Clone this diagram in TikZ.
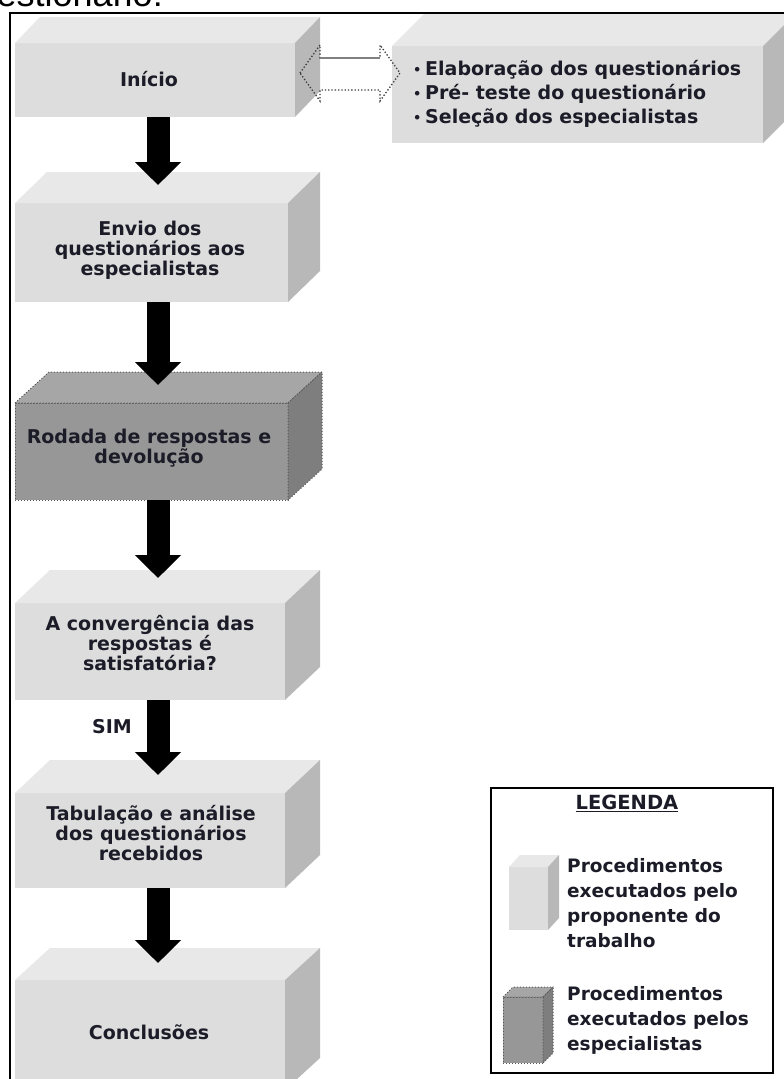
\documentclass[tikz,border=0pt]{standalone}
\usepackage{fontspec}
\setmainfont{DejaVu Sans}
\newfontfamily\capfont{Liberation Sans}
\usetikzlibrary{calc,arrows.meta}

\definecolor{ink}{HTML}{1C1C28}
\definecolor{lfront}{HTML}{DDDDDD}
\definecolor{ltop}{HTML}{E8E8E8}
\definecolor{lside}{HTML}{B8B8B8}
\definecolor{dfront}{HTML}{979797}
\definecolor{dtop}{HTML}{A6A6A6}
\definecolor{dside}{HTML}{7E7E7E}
\definecolor{dedge}{HTML}{555555}
\definecolor{linkedge}{HTML}{3A3A3A}

% top and right faces of a box whose front face is node #1
\newcommand\cubefaces[5]{%
  \path[#4] (#1.north west) -- ++(#2pt,#3pt) -- ($(#1.north east)+(#2pt,#3pt)$) -- (#1.north east) -- cycle;
  \path[#5] (#1.north east) -- ++(#2pt,#3pt) -- ($(#1.south east)+(#2pt,#3pt)$) -- (#1.south east) -- cycle;
}

\tikzset{
  lightface/.style={anchor=north west, inner sep=0pt, outer sep=0pt, fill=lfront},
  darkface/.style={anchor=north west, inner sep=0pt, outer sep=0pt, fill=dfront, draw=dedge, dotted, line width=1pt},
  ltopface/.style={fill=ltop},
  lsideface/.style={fill=lside},
  dtopface/.style={fill=dtop, draw=dedge, dotted, line width=1pt},
  dsideface/.style={fill=dside, draw=dedge, dotted, line width=1pt},
  boxtext/.style={text=ink, font=\bfseries\fontsize{19}{20}\selectfont, align=center, inner sep=0pt},
  listtext/.style={text=ink, font=\bfseries\fontsize{19}{24}\selectfont, align=left, inner sep=0pt, anchor=west},
  legtext/.style={text=ink, font=\bfseries\fontsize{18.5}{25}\selectfont, align=left, inner sep=0pt, anchor=west},
  flow/.style={line width=23pt, black, -{Triangle[length=23pt,width=45pt]}},
}

\newcommand\bul{\makebox[12pt][l]{\fontsize{13}{13}\selectfont\raisebox{1pt}{•}}}

\begin{document}
\begin{tikzpicture}[x=1pt,y=-1pt]
\useasboundingbox (0,0) rectangle (784,1079);
\clip (0,0) rectangle (784,1079);
\fill[white] (0,0) rectangle (784,1079);

% heading running above the frame
\node[anchor=base east, inner sep=0pt, font=\capfont\fontsize{36}{36}\selectfont] (heading) at (163,6) {questionário:};

% flow boxes (front faces)
\node[lightface, minimum width=280pt, minimum height=74pt] (inicio) at (15,43) {};
\node[lightface, minimum width=273pt, minimum height=99pt] (envio) at (15,203) {};
\node[darkface, minimum width=273pt, minimum height=97pt] (rodada) at (15,403) {};
\node[lightface, minimum width=270pt, minimum height=97pt] (conv) at (15,603) {};
\node[lightface, minimum width=270pt, minimum height=95pt] (tab) at (15,793) {};
\node[lightface, minimum width=270pt, minimum height=110pt] (concl) at (15,980) {};
\node[lightface, minimum width=371pt, minimum height=97pt] (topics) at (392,46) {};

\cubefaces{inicio}{25}{26}{ltopface}{lsideface}
\cubefaces{envio}{32}{31}{ltopface}{lsideface}
\cubefaces{rodada}{34}{31}{dtopface}{dsideface}
\cubefaces{conv}{35}{33}{ltopface}{lsideface}
\cubefaces{tab}{35}{33}{ltopface}{lsideface}
\cubefaces{concl}{35}{32}{ltopface}{lsideface}
\cubefaces{topics}{32}{32}{ltopface}{lsideface}

% box labels
\node[boxtext] (inicio-t) at (149,79) {Início};
\node[boxtext] (envio-t) at (150,250) {Envio dos\\questionários aos\\especialistas};
\node[boxtext] (rodada-t) at (149,448) {Rodada de respostas e\\devolução};
\node[boxtext] (conv-t) at (150,643) {A convergência das\\respostas é\\satisfatória?};
\node[boxtext] (tab-t) at (151,833) {Tabulação e análise\\dos questionários\\recebidos};
\node[boxtext] (concl-t) at (149,1032) {Conclusões};
\node[listtext] (topics-t) at (413,94) {\bul Elaboração dos questionários\\\bul Pré- teste do questionário\\\bul Seleção dos especialistas};

% downward flow arrows
\draw[flow] ($(inicio.south west)+(143pt,0pt)$) -- ($(envio.north west)+(143pt,18pt)$);
\draw[flow] ($(envio.south west)+(143pt,0pt)$) -- ($(rodada.north west)+(143pt,18pt)$);
\draw[flow] ($(rodada.south west)+(143pt,0pt)$) -- ($(conv.north west)+(143pt,25pt)$);
\draw[flow] ($(conv.south west)+(143pt,0pt)$) -- ($(tab.north west)+(143pt,18pt)$);
\draw[flow] ($(tab.south west)+(143pt,0pt)$) -- ($(concl.north west)+(143pt,17pt)$);
\node[boxtext] (sim) at (112,727) {SIM};

% two-way outline arrow between Início and the task list
\draw[linkedge, dotted, line width=1.3pt] (300,73) -- (320,45) -- (320,58) -- (380,58) -- (380,45) -- (400,73)
  -- (380,101) -- (380,90) -- (320,90) -- (320,101) -- cycle;
\draw[gray, line width=1.2pt] (320,58) -- (380,58);

% outer frame
\draw[black, line width=2pt] (10,1100) -- (10,13) -- (800,13);

% legend
\node[draw=black, line width=1.5pt, anchor=north west, minimum width=282pt, minimum height=285pt, inner sep=0pt] (legend) at (490,787) {};
\node[text=ink, font=\bfseries\fontsize{19.5}{20}\selectfont, inner sep=0pt] (legend-t) at (627,803) {\underline{LEGENDA}};
\node[lightface, minimum width=39pt, minimum height=63pt] (legcube1) at (509,867) {};
\cubefaces{legcube1}{11}{12}{ltopface}{lsideface}
\node[darkface, minimum width=40pt, minimum height=66pt] (legcube2) at (503,997) {};
\cubefaces{legcube2}{10}{10}{dtopface}{dsideface}
\node[legtext] (leg1-t) at (567,903) {Procedimentos\\executados pelo\\proponente do\\trabalho};
\node[legtext] (leg2-t) at (567,1020) {Procedimentos\\executados pelos\\especialistas};
\end{tikzpicture}
\end{document}
